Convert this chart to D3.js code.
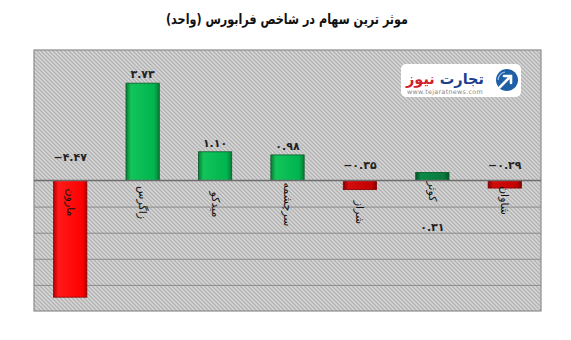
<!DOCTYPE html>
<html lang="fa">
<head>
<meta charset="utf-8">
<script src="https://cdn.jsdelivr.net/npm/d3@7"></script>
<style>
  html, body { margin: 0; padding: 0; background: #ffffff; }
  svg { display: block; font-family: "DejaVu Sans", "Noto Sans", sans-serif; }
</style>
</head>
<body>
<svg id="chart" width="571" height="340"></svg>
<script>
// Stocks with the largest effect on the Farabourse index (units)
const categories = ["مارون", "زاگرس", "میدکو", "سرچشمه", "شراز", "کوثر", "شاوان"];
const values = [-4.47, 3.73, 1.10, 0.98, -0.35, 0.31, -0.29];
const yTicks = [-4, -3, -2, -1];
const titleText = "موثر ترین سهام در شاخص فرابورس (واحد)";

// bar colour families (bright / dark variants)
const barStyle = ["redBright", "greenBright", "greenBright", "greenBright", "redDark", "greenDark", "redDark"];
// vertical nudges for the rotated category names and value labels
const nameShift = [0, 0, 2, 2, 10, -11, -2];
const valueShift = [-8, 0, 0, 0, 0, 0, 0];

const toFa = s => s.replace(/[0-9]/g, d => "۰۱۲۳۴۵۶۷۸۹"[+d]);
const fmt = v => (v < 0 ? "\u2212" : "") + toFa(Math.abs(v).toFixed(2));

const svg = d3.select("#chart");
const plot = { left: 34, right: 541, top: 50, bottom: 311 };

const defs = svg.append("defs");

// diagonal hatch for the plot background
const pat = defs.append("pattern")
  .attr("id", "hatch").attr("patternUnits", "userSpaceOnUse")
  .attr("width", 4).attr("height", 4);
pat.append("rect").attr("width", 4).attr("height", 4).attr("fill", "#b3b3b3");
pat.append("path")
  .attr("d", "M0,0 L4,4 M-1,3 L1,5 M3,-1 L5,1")
  .attr("stroke", "#d9d9d9").attr("stroke-width", 1.3);

// bar gradients: darker edges, brighter middle
const grads = {
  redBright:   ["#b80000", "#ff1a1a", "#ff0000", "#b80000"],
  greenBright: ["#0a7a34", "#12c45a", "#00b44f", "#0a7a34"],
  greenDark:   ["#05502a", "#0a8a46", "#087a3e", "#05502a"],
  redDark:     ["#7a0000", "#d40c0c", "#c40000", "#7a0000"]
};
Object.entries(grads).forEach(([id, c]) => {
  const g = defs.append("linearGradient").attr("id", "g-" + id)
    .attr("x1", 0).attr("x2", 1).attr("y1", 0).attr("y2", 0);
  g.append("stop").attr("offset", "0%").attr("stop-color", c[0]);
  g.append("stop").attr("offset", "15%").attr("stop-color", c[1]);
  g.append("stop").attr("offset", "85%").attr("stop-color", c[2]);
  g.append("stop").attr("offset", "100%").attr("stop-color", c[3]);
});

// title
svg.append("text")
  .attr("x", 287).attr("y", 24)
  .attr("text-anchor", "middle")
  .attr("font-size", 14).attr("font-weight", "bold")
  .attr("fill", "#111")
  .attr("direction", "rtl")
  .attr("textLength", 242).attr("lengthAdjust", "spacingAndGlyphs")
  .text(titleText);

// scales
const x = d3.scaleBand()
  .domain(categories)
  .range([plot.left, plot.right])
  .paddingInner(0.54).paddingOuter(0.27);
const y = d3.scaleLinear().domain([-5, 5]).range([plot.bottom, plot.top]);

// plot background
svg.append("rect")
  .attr("x", plot.left).attr("y", plot.top)
  .attr("width", plot.right - plot.left).attr("height", plot.bottom - plot.top)
  .attr("fill", "url(#hatch)");

// horizontal gridlines below zero
const grid = d3.axisLeft(y).tickValues(yTicks)
  .tickSize(-(plot.right - plot.left)).tickFormat("");
svg.append("g")
  .attr("transform", `translate(${plot.left},0)`)
  .call(grid)
  .call(g => g.select(".domain").remove())
  .call(g => g.selectAll("line").attr("stroke", "#8c8c8c").attr("stroke-width", 1));

// plot border
svg.append("rect")
  .attr("x", plot.left).attr("y", plot.top)
  .attr("width", plot.right - plot.left).attr("height", plot.bottom - plot.top)
  .attr("fill", "none").attr("stroke", "#8c8c8c").attr("stroke-width", 1.2);

// logo badge
const logo = svg.append("g");
logo.append("rect")
  .attr("x", 401).attr("y", 64).attr("width", 120).attr("height", 33)
  .attr("rx", 5).attr("fill", "#ffffff");
logo.append("circle").attr("cx", 507).attr("cy", 80).attr("r", 11).attr("fill", "#1f5fa6");
logo.append("path")
  .attr("d", "M500,87 L510,77 M504,76 L511,76 L511,83")
  .attr("stroke", "#ffffff").attr("stroke-width", 2.6).attr("fill", "none")
  .attr("stroke-linecap", "round");
logo.append("path")
  .attr("d", "M498,80 A9,9 0 0 1 505,72")
  .attr("stroke", "#9cc0e6").attr("stroke-width", 1.2).attr("fill", "none");
const brand = logo.append("text")
  .attr("x", 484).attr("y", 84)
  .attr("text-anchor", "start").attr("direction", "rtl")
  .attr("font-size", 15).attr("font-weight", "bold")
  .attr("textLength", 78).attr("lengthAdjust", "spacingAndGlyphs");
brand.append("tspan").attr("fill", "#1d3f8c").text("تجارت");
brand.append("tspan").attr("fill", "#d21f2b").text(" نیوز");
logo.append("text")
  .attr("x", 445).attr("y", 94)
  .attr("text-anchor", "middle")
  .attr("font-size", 6.4).attr("fill", "#8a8a8a")
  .attr("letter-spacing", 0.3)
  .text("www.tejaratnews.com");

// bars
const rows = categories.map((c, i) => ({ c, v: values[i], i }));
svg.append("g").selectAll("rect").data(rows).join("rect")
  .attr("x", d => x(d.c))
  .attr("y", d => y(Math.max(0, d.v)))
  .attr("width", x.bandwidth())
  .attr("height", d => Math.abs(y(d.v) - y(0)))
  .attr("fill", d => `url(#g-${barStyle[d.i]})`)
  .attr("stroke", d => barStyle[d.i].startsWith("red") ? "#8a0000" : "#0b5a2a")
  .attr("stroke-width", 0.8);

// zero line
svg.append("line")
  .attr("x1", plot.left).attr("x2", plot.right)
  .attr("y1", y(0)).attr("y2", y(0))
  .attr("stroke", "#6e6e6e").attr("stroke-width", 1.6);

// value labels: above the bar for gains, above the axis for losses,
// and under the axis when the bar is too short to carry it
svg.append("g").selectAll("text").data(rows).join("text")
  .attr("x", d => x(d.c) + x.bandwidth() / 2)
  .attr("y", d => {
    if (d.v < 0) return y(0) - 12 + valueShift[d.i];
    if (d.v < 0.5) return y(0) + 50;
    return y(d.v) - 5 + valueShift[d.i];
  })
  .attr("text-anchor", "middle")
  .attr("direction", "ltr")
  .attr("font-size", 11).attr("font-weight", "bold")
  .attr("fill", "#222")
  .text(d => fmt(d.v));

// rotated category names below the axis
svg.append("g").selectAll("text").data(rows).join("text")
  .attr("transform", d =>
    `translate(${x(d.c) + x.bandwidth() / 2},${y(0) + 22 + nameShift[d.i]}) rotate(90)`)
  .attr("text-anchor", "middle")
  .attr("dominant-baseline", "central")
  .attr("font-size", 11)
  .attr("fill", "#111")
  .text(d => d.c);
</script>
</body>
</html>
